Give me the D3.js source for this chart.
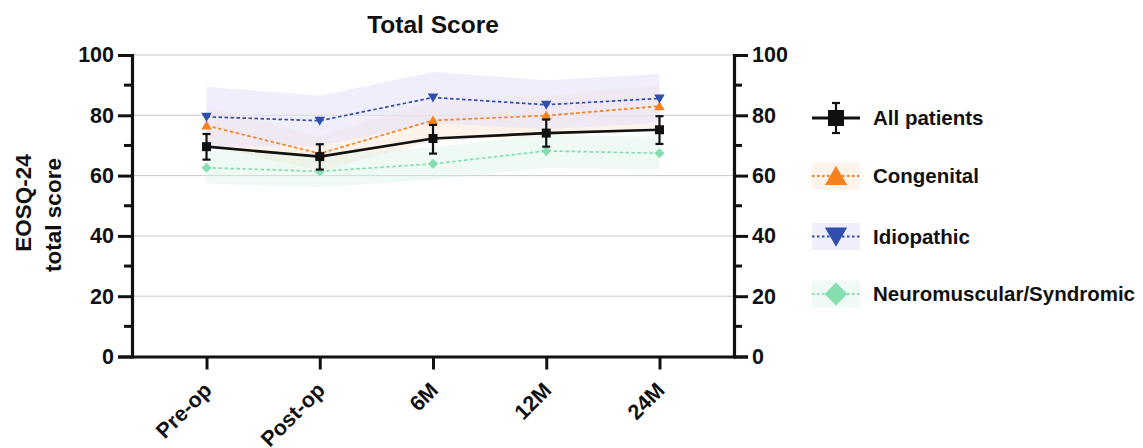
<!DOCTYPE html>
<html>
<head>
<meta charset="utf-8">
<script src="https://cdn.jsdelivr.net/npm/d3@7"></script>
<style>
  html, body { margin: 0; padding: 0; background: #fff; }
  svg { display: block; font-family: "Liberation Sans", Arial, sans-serif; }
</style>
</head>
<body>
<svg id="chart" width="1143" height="448"></svg>
<script>
// Time points and tick values
const timepoints = ["Pre-op", "Post-op", "6M", "12M", "24M"];
const yTicks = [0, 20, 40, 60, 80, 100];
const yMinorTicks = [10, 30, 50, 70, 90];

// All patients: mean with error bars
const allMean = [69.6, 66.3, 72.3, 74.1, 75.2];
const allLow  = [65.3, 62.0, 67.3, 69.6, 70.5];
const allHigh = [73.8, 70.4, 76.8, 78.6, 79.7];

// Congenital: mean with shaded band
const congMean = [76.6, 67.3, 78.3, 79.9, 83.0];
const congLow  = [70.0, 61.5, 71.5, 73.0, 76.0];
const congHigh = [83.0, 73.0, 85.0, 86.5, 90.0];

// Idiopathic: mean with shaded band
const idioMean = [79.5, 78.2, 85.9, 83.5, 85.6];
const idioLow  = [69.5, 69.9, 77.4, 75.4, 77.5];
const idioHigh = [89.5, 86.5, 94.4, 91.6, 93.7];

// Neuromuscular/Syndromic: mean with shaded band
const neuroMean = [62.6, 61.4, 63.9, 68.2, 67.4];
const neuroLow  = [57.3, 56.1, 58.6, 62.6, 62.0];
const neuroHigh = [68.6, 66.8, 69.4, 73.6, 72.8];

const svg = d3.select("#chart");
const pLeft = 132, pRight = 734, pTop = 55, pBottom = 356.5;
const FONT = "'Liberation Sans', Arial, sans-serif";

const x = d3.scalePoint().domain(timepoints).range([pLeft, pRight]).padding(0.658);
const y = d3.scaleLinear().domain([0, 100]).range([pBottom, pTop]);

// Horizontal grid lines
svg.append("g").selectAll("line")
  .data(yTicks.filter(d => d > 0))
  .join("line")
  .attr("x1", pLeft).attr("x2", pRight)
  .attr("y1", d => y(d)).attr("y2", d => y(d))
  .attr("stroke", "#c8c8c8").attr("stroke-width", 1);

// Diamond drawn as a square turned 45 degrees
const diamond = d3.symbolSquare;

const groups = [
  { name: "Congenital", mean: congMean, low: congLow, high: congHigh,
    color: "#f5821f", band: "#fde9da", bandOpacity: 0.55, symbol: d3.symbolTriangle, rot: 0 },
  { name: "Idiopathic", mean: idioMean, low: idioLow, high: idioHigh,
    color: "#2f4fab", band: "#e6e2f8", bandOpacity: 0.6, symbol: d3.symbolTriangle, rot: 180 },
  { name: "Neuromuscular/Syndromic", mean: neuroMean, low: neuroLow, high: neuroHigh,
    color: "#86deb0", band: "#dcf5e6", bandOpacity: 0.45, symbol: diamond, rot: 45 }
];

// Shaded bands
const area = d3.area()
  .x((d, i) => x(timepoints[i]))
  .y0(d => y(d[0]))
  .y1(d => y(d[1]));

groups.forEach(g => {
  svg.append("path")
    .datum(g.low.map((v, i) => [v, g.high[i]]))
    .attr("d", area)
    .attr("fill", g.band)
    .attr("fill-opacity", g.bandOpacity);
});

const line = d3.line().x((d, i) => x(timepoints[i])).y(d => y(d));

// Dotted group lines
groups.forEach(g => {
  svg.append("path")
    .datum(g.mean)
    .attr("d", line)
    .attr("fill", "none")
    .attr("stroke", g.color)
    .attr("stroke-width", 1.7)
    .attr("stroke-dasharray", "3.5,2.5");
});

// Group markers
groups.forEach(g => {
  const size = g.symbol === diamond ? 50 : 48;
  svg.append("g").selectAll("path")
    .data(g.mean)
    .join("path")
    .attr("d", d3.symbol().type(g.symbol).size(size))
    .attr("transform", (d, i) => {
      const dy = g.symbol === d3.symbolTriangle ? (g.rot ? -1 : 1) : 0;
      return `translate(${x(timepoints[i])},${y(d) + dy}) rotate(${g.rot})`;
    })
    .attr("fill", g.color);
});

// All patients line, error bars and markers
svg.append("path")
  .datum(allMean)
  .attr("d", line)
  .attr("fill", "none")
  .attr("stroke", "#111")
  .attr("stroke-width", 2.6);

const eb = svg.append("g").attr("stroke", "#111").attr("stroke-width", 2.2);
allMean.forEach((m, i) => {
  const cx = x(timepoints[i]);
  eb.append("line").attr("x1", cx).attr("x2", cx).attr("y1", y(allLow[i])).attr("y2", y(allHigh[i]));
  eb.append("line").attr("x1", cx - 4).attr("x2", cx + 4).attr("y1", y(allLow[i])).attr("y2", y(allLow[i]));
  eb.append("line").attr("x1", cx - 4).attr("x2", cx + 4).attr("y1", y(allHigh[i])).attr("y2", y(allHigh[i]));
});
svg.append("g").selectAll("rect")
  .data(allMean)
  .join("rect")
  .attr("x", (d, i) => x(timepoints[i]) - 4.5)
  .attr("y", d => y(d) - 4.5)
  .attr("width", 9).attr("height", 9)
  .attr("fill", "#111");

// Axes
const axisFont = (g, size) => g.selectAll("text")
  .attr("font-family", FONT)
  .attr("font-weight", "bold").attr("font-size", size).attr("fill", "#111");

const yLeft = svg.append("g").attr("transform", `translate(${pLeft},0)`)
  .call(d3.axisLeft(y).tickValues(yTicks).tickSize(14).tickPadding(4).tickFormat(d3.format("d")));
axisFont(yLeft, 21.5);
const yRight = svg.append("g").attr("transform", `translate(${pRight},0)`)
  .call(d3.axisRight(y).tickValues(yTicks).tickSize(14).tickPadding(4).tickFormat(d3.format("d")));
axisFont(yRight, 21.5);

[yLeft, yRight].forEach(a => {
  a.select(".domain").attr("stroke", "#111").attr("stroke-width", 3.2);
  a.selectAll(".tick line").attr("stroke", "#111").attr("stroke-width", 3);
});

// Minor ticks
svg.append("g").selectAll("line").data(yMinorTicks).join("line")
  .attr("x1", pLeft - 8).attr("x2", pLeft).attr("y1", d => y(d)).attr("y2", d => y(d))
  .attr("stroke", "#111").attr("stroke-width", 3);
svg.append("g").selectAll("line").data(yMinorTicks).join("line")
  .attr("x1", pRight).attr("x2", pRight + 8).attr("y1", d => y(d)).attr("y2", d => y(d))
  .attr("stroke", "#111").attr("stroke-width", 3);

const xAxis = svg.append("g").attr("transform", `translate(0,${pBottom})`)
  .call(d3.axisBottom(x).tickSize(13).tickSizeOuter(0));
xAxis.select(".domain").attr("stroke", "#111").attr("stroke-width", 3.2)
  .attr("d", `M${pLeft - 1.5},0.5H${pRight + 1.5}`);
xAxis.selectAll(".tick line").attr("stroke", "#111").attr("stroke-width", 3);
axisFont(xAxis, 21.5);
xAxis.selectAll(".tick text")
  .attr("text-anchor", "end")
  .attr("dy", 0)
  .attr("transform", "translate(6,35) rotate(-45)")
  .attr("x", 0).attr("y", 0);

// Title and axis label
svg.append("text")
  .attr("x", (pLeft + pRight) / 2).attr("y", 33)
  .attr("text-anchor", "middle")
  .attr("font-weight", "bold").attr("font-size", 24.5).attr("fill", "#111")
  .text("Total Score");

svg.append("text")
  .attr("transform", `translate(31,203) rotate(-90)`)
  .attr("text-anchor", "middle")
  .attr("font-weight", "bold").attr("font-size", 22.5).attr("fill", "#111")
  .text("EOSQ-24");
svg.append("text")
  .attr("transform", `translate(61,215) rotate(-90)`)
  .attr("text-anchor", "middle")
  .attr("font-weight", "bold").attr("font-size", 22.5).attr("fill", "#111")
  .text("total score");

// Legend
const lg = svg.append("g");
const lx0 = 812, lx1 = 860, lcx = 836;
const ly = [118, 176, 236.5, 294];

lg.append("line").attr("x1", lx0).attr("x2", lx1).attr("y1", ly[0]).attr("y2", ly[0])
  .attr("stroke", "#111").attr("stroke-width", 2.8);
lg.append("line").attr("x1", lcx).attr("x2", lcx).attr("y1", ly[0] - 15).attr("y2", ly[0] + 15)
  .attr("stroke", "#111").attr("stroke-width", 2.2);
[-15, 15].forEach(o => lg.append("line").attr("x1", lcx - 4).attr("x2", lcx + 4)
  .attr("y1", ly[0] + o).attr("y2", ly[0] + o).attr("stroke", "#111").attr("stroke-width", 2.2));
lg.append("rect").attr("x", lcx - 8).attr("y", ly[0] - 8).attr("width", 16).attr("height", 16).attr("fill", "#111");
lg.append("text").attr("x", 873).attr("y", ly[0]).attr("dy", "0.35em")
  .attr("font-weight", "bold").attr("font-size", 20.5).attr("fill", "#111").text("All patients");

groups.forEach((g, k) => {
  const cy = ly[k + 1];
  lg.append("rect").attr("x", lx0).attr("y", cy - 13.5).attr("width", lx1 - lx0).attr("height", 27)
    .attr("fill", g.band).attr("fill-opacity", g.bandOpacity);
  lg.append("line").attr("x1", lx0).attr("x2", lx1).attr("y1", cy).attr("y2", cy)
    .attr("stroke", g.color).attr("stroke-width", 2.2).attr("stroke-dasharray", "2.5,2.5");
  const size = g.symbol === diamond ? 260 : 215;
  const dy = g.symbol === d3.symbolTriangle ? (g.rot ? -2.5 : 2.5) : 0;
  lg.append("path").attr("d", d3.symbol().type(g.symbol).size(size))
    .attr("transform", `translate(${lcx},${cy + dy}) rotate(${g.rot})`)
    .attr("fill", g.color);
  lg.append("text").attr("x", 873).attr("y", cy).attr("dy", "0.35em")
    .attr("font-weight", "bold").attr("font-size", 20.5).attr("fill", "#111").text(g.name);
});
</script>
</body>
</html>
